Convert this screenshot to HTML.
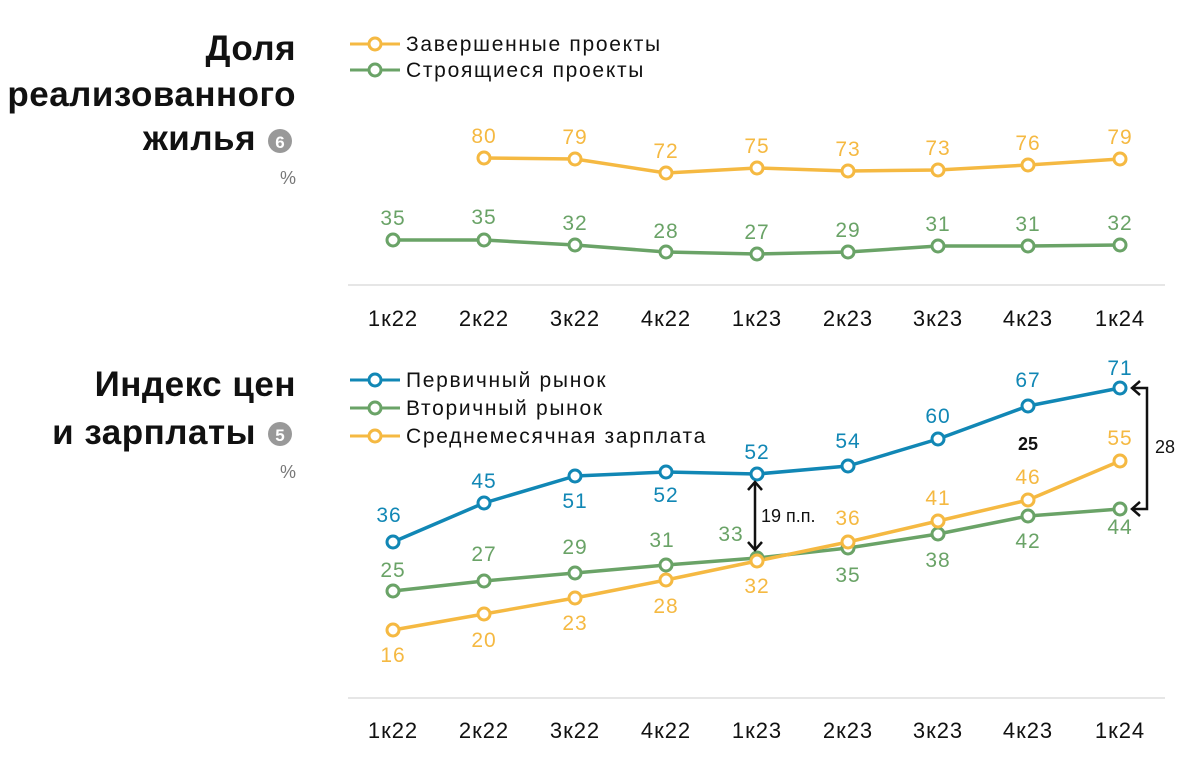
<!DOCTYPE html>
<html><head><meta charset="utf-8"><style>
body{margin:0;background:#fff;width:1200px;height:763px;overflow:hidden}
svg{display:block}
text{font-family:"Liberation Sans","DejaVu Sans",sans-serif}
</style></head><body>
<svg width="1200" height="763" viewBox="0 0 1200 763">
<g font-weight="bold" font-size="35" fill="#111" text-anchor="end" letter-spacing="0.5">
<text x="296" y="60">Доля</text>
<text x="296" y="106">реализованного</text>
<text x="256" y="150">жилья</text>
<text x="296" y="396">Индекс цен</text>
<text x="256" y="444">и зарплаты</text>
</g>
<circle cx="280" cy="141" r="12" fill="#999"/><text x="280" y="148" font-size="17" font-weight="bold" fill="#fff" text-anchor="middle">6</text>
<circle cx="280" cy="434" r="12" fill="#999"/><text x="280" y="441" font-size="17" font-weight="bold" fill="#fff" text-anchor="middle">5</text>
<text x="296" y="184" font-size="18" fill="#777" text-anchor="end">%</text>
<text x="296" y="478" font-size="18" fill="#777" text-anchor="end">%</text>

<g font-size="21" fill="#111" letter-spacing="1.7">
<line x1="350" y1="44" x2="400" y2="44" stroke="#F5B942" stroke-width="3"/><circle cx="375" cy="44" r="6" fill="#fff" stroke="#F5B942" stroke-width="3"/><text x="406" y="51">Завершенные проекты</text>
<line x1="350" y1="70" x2="400" y2="70" stroke="#6AA367" stroke-width="3"/><circle cx="375" cy="70" r="6" fill="#fff" stroke="#6AA367" stroke-width="3"/><text x="406" y="77">Строящиеся проекты</text>
<line x1="350" y1="380" x2="400" y2="380" stroke="#1187B5" stroke-width="3"/><circle cx="375" cy="380" r="6" fill="#fff" stroke="#1187B5" stroke-width="3"/><text x="406" y="387">Первичный рынок</text>
<line x1="350" y1="408" x2="400" y2="408" stroke="#6AA367" stroke-width="3"/><circle cx="375" cy="408" r="6" fill="#fff" stroke="#6AA367" stroke-width="3"/><text x="406" y="415">Вторичный рынок</text>
<line x1="350" y1="436" x2="400" y2="436" stroke="#F5B942" stroke-width="3"/><circle cx="375" cy="436" r="6" fill="#fff" stroke="#F5B942" stroke-width="3"/><text x="406" y="443">Среднемесячная зарплата</text>
</g>

<line x1="348" y1="285" x2="1165" y2="285" stroke="#ddd" stroke-width="1.5"/>
<line x1="348" y1="698" x2="1165" y2="698" stroke="#ddd" stroke-width="1.5"/>
<g font-size="22" fill="#111" text-anchor="middle" letter-spacing="1">
<text x="393" y="326">1к22</text><text x="484" y="326">2к22</text><text x="575" y="326">3к22</text><text x="666" y="326">4к22</text><text x="757" y="326">1к23</text><text x="848" y="326">2к23</text><text x="938" y="326">3к23</text><text x="1028" y="326">4к23</text><text x="1120" y="326">1к24</text>
<text x="393" y="738">1к22</text><text x="484" y="738">2к22</text><text x="575" y="738">3к22</text><text x="666" y="738">4к22</text><text x="757" y="738">1к23</text><text x="848" y="738">2к23</text><text x="938" y="738">3к23</text><text x="1028" y="738">4к23</text><text x="1120" y="738">1к24</text>
</g>

<g fill="none" stroke-width="3.5" stroke-linejoin="round">
<polyline stroke="#F5B942" points="484,158 575,159 666,173 757,168 848,171 938,170 1028,165 1120,159"/>
<polyline stroke="#6AA367" points="393,240 484,240 575,245 666,252 757,254 848,252 938,246 1028,246 1120,245"/>
<polyline stroke="#6AA367" points="393,591 484,581 575,573 666,565 757,558 848,548 938,534 1028,516 1120,509"/>
<polyline stroke="#F5B942" points="393,630 484,614 575,598 666,580 757,561 848,542 938,521 1028,500 1120,461"/>
<polyline stroke="#1187B5" points="393,542 484,503 575,476 666,472 757,474 848,466 938,439 1028,406 1120,388"/>
</g>
<g fill="#fff" stroke-width="3">
<g stroke="#F5B942"><circle cx="484" cy="158" r="6"/><circle cx="575" cy="159" r="6"/><circle cx="666" cy="173" r="6"/><circle cx="757" cy="168" r="6"/><circle cx="848" cy="171" r="6"/><circle cx="938" cy="170" r="6"/><circle cx="1028" cy="165" r="6"/><circle cx="1120" cy="159" r="6"/></g>
<g stroke="#6AA367"><circle cx="393" cy="240" r="6"/><circle cx="484" cy="240" r="6"/><circle cx="575" cy="245" r="6"/><circle cx="666" cy="252" r="6"/><circle cx="757" cy="254" r="6"/><circle cx="848" cy="252" r="6"/><circle cx="938" cy="246" r="6"/><circle cx="1028" cy="246" r="6"/><circle cx="1120" cy="245" r="6"/></g>
<g stroke="#6AA367"><circle cx="393" cy="591" r="6"/><circle cx="484" cy="581" r="6"/><circle cx="575" cy="573" r="6"/><circle cx="666" cy="565" r="6"/><circle cx="757" cy="558" r="6"/><circle cx="848" cy="548" r="6"/><circle cx="938" cy="534" r="6"/><circle cx="1028" cy="516" r="6"/><circle cx="1120" cy="509" r="6"/></g>
<g stroke="#F5B942"><circle cx="393" cy="630" r="6"/><circle cx="484" cy="614" r="6"/><circle cx="575" cy="598" r="6"/><circle cx="666" cy="580" r="6"/><circle cx="757" cy="561" r="6"/><circle cx="848" cy="542" r="6"/><circle cx="938" cy="521" r="6"/><circle cx="1028" cy="500" r="6"/><circle cx="1120" cy="461" r="6"/></g>
<g stroke="#1187B5"><circle cx="393" cy="542" r="6"/><circle cx="484" cy="503" r="6"/><circle cx="575" cy="476" r="6"/><circle cx="666" cy="472" r="6"/><circle cx="757" cy="474" r="6"/><circle cx="848" cy="466" r="6"/><circle cx="938" cy="439" r="6"/><circle cx="1028" cy="406" r="6"/><circle cx="1120" cy="388" r="6"/></g>
</g>

<g font-size="21" text-anchor="middle" letter-spacing="1">
<g fill="#F5B942"><text x="484" y="143">80</text><text x="575" y="144">79</text><text x="666" y="158">72</text><text x="757" y="153">75</text><text x="848" y="156">73</text><text x="938" y="155">73</text><text x="1028" y="150">76</text><text x="1120" y="144">79</text></g>
<g fill="#6AA367"><text x="393" y="225">35</text><text x="484" y="224">35</text><text x="575" y="230">32</text><text x="666" y="238">28</text><text x="757" y="239">27</text><text x="848" y="237">29</text><text x="938" y="231">31</text><text x="1028" y="231">31</text><text x="1120" y="230">32</text></g>
<g fill="#1187B5"><text x="389" y="522">36</text><text x="484" y="488">45</text><text x="575" y="508">51</text><text x="666" y="502">52</text><text x="757" y="459">52</text><text x="848" y="448">54</text><text x="938" y="423">60</text><text x="1028" y="387">67</text><text x="1120" y="375">71</text></g>
<g fill="#6AA367"><text x="393" y="577">25</text><text x="484" y="561">27</text><text x="575" y="554">29</text><text x="662" y="547">31</text><text x="731" y="541">33</text><text x="848" y="582">35</text><text x="938" y="567">38</text><text x="1028" y="548">42</text><text x="1120" y="534">44</text></g>
<g fill="#F5B942"><text x="393" y="662">16</text><text x="484" y="647">20</text><text x="575" y="630">23</text><text x="666" y="613">28</text><text x="757" y="593">32</text><text x="848" y="525">36</text><text x="938" y="505">41</text><text x="1028" y="484">46</text><text x="1120" y="445">55</text></g>
</g>

<g stroke="#111" stroke-width="2.5" fill="none">
<line x1="755" y1="482" x2="755" y2="550"/>
<polyline points="748,490 755,482 762,490"/><polyline points="748,542 755,550 762,542"/>
<polyline points="1132,388 1147,388 1147,509 1132,509"/>
<polyline points="1140,381 1132,388 1140,395"/><polyline points="1140,502 1132,509 1140,516"/>
</g>
<g font-size="18" fill="#111">
<text x="761" y="522">19 п.п.</text>
<text x="1028" y="450" text-anchor="middle" font-weight="bold">25</text>
<text x="1155" y="453">28</text>
</g>
</svg>
</body></html>
